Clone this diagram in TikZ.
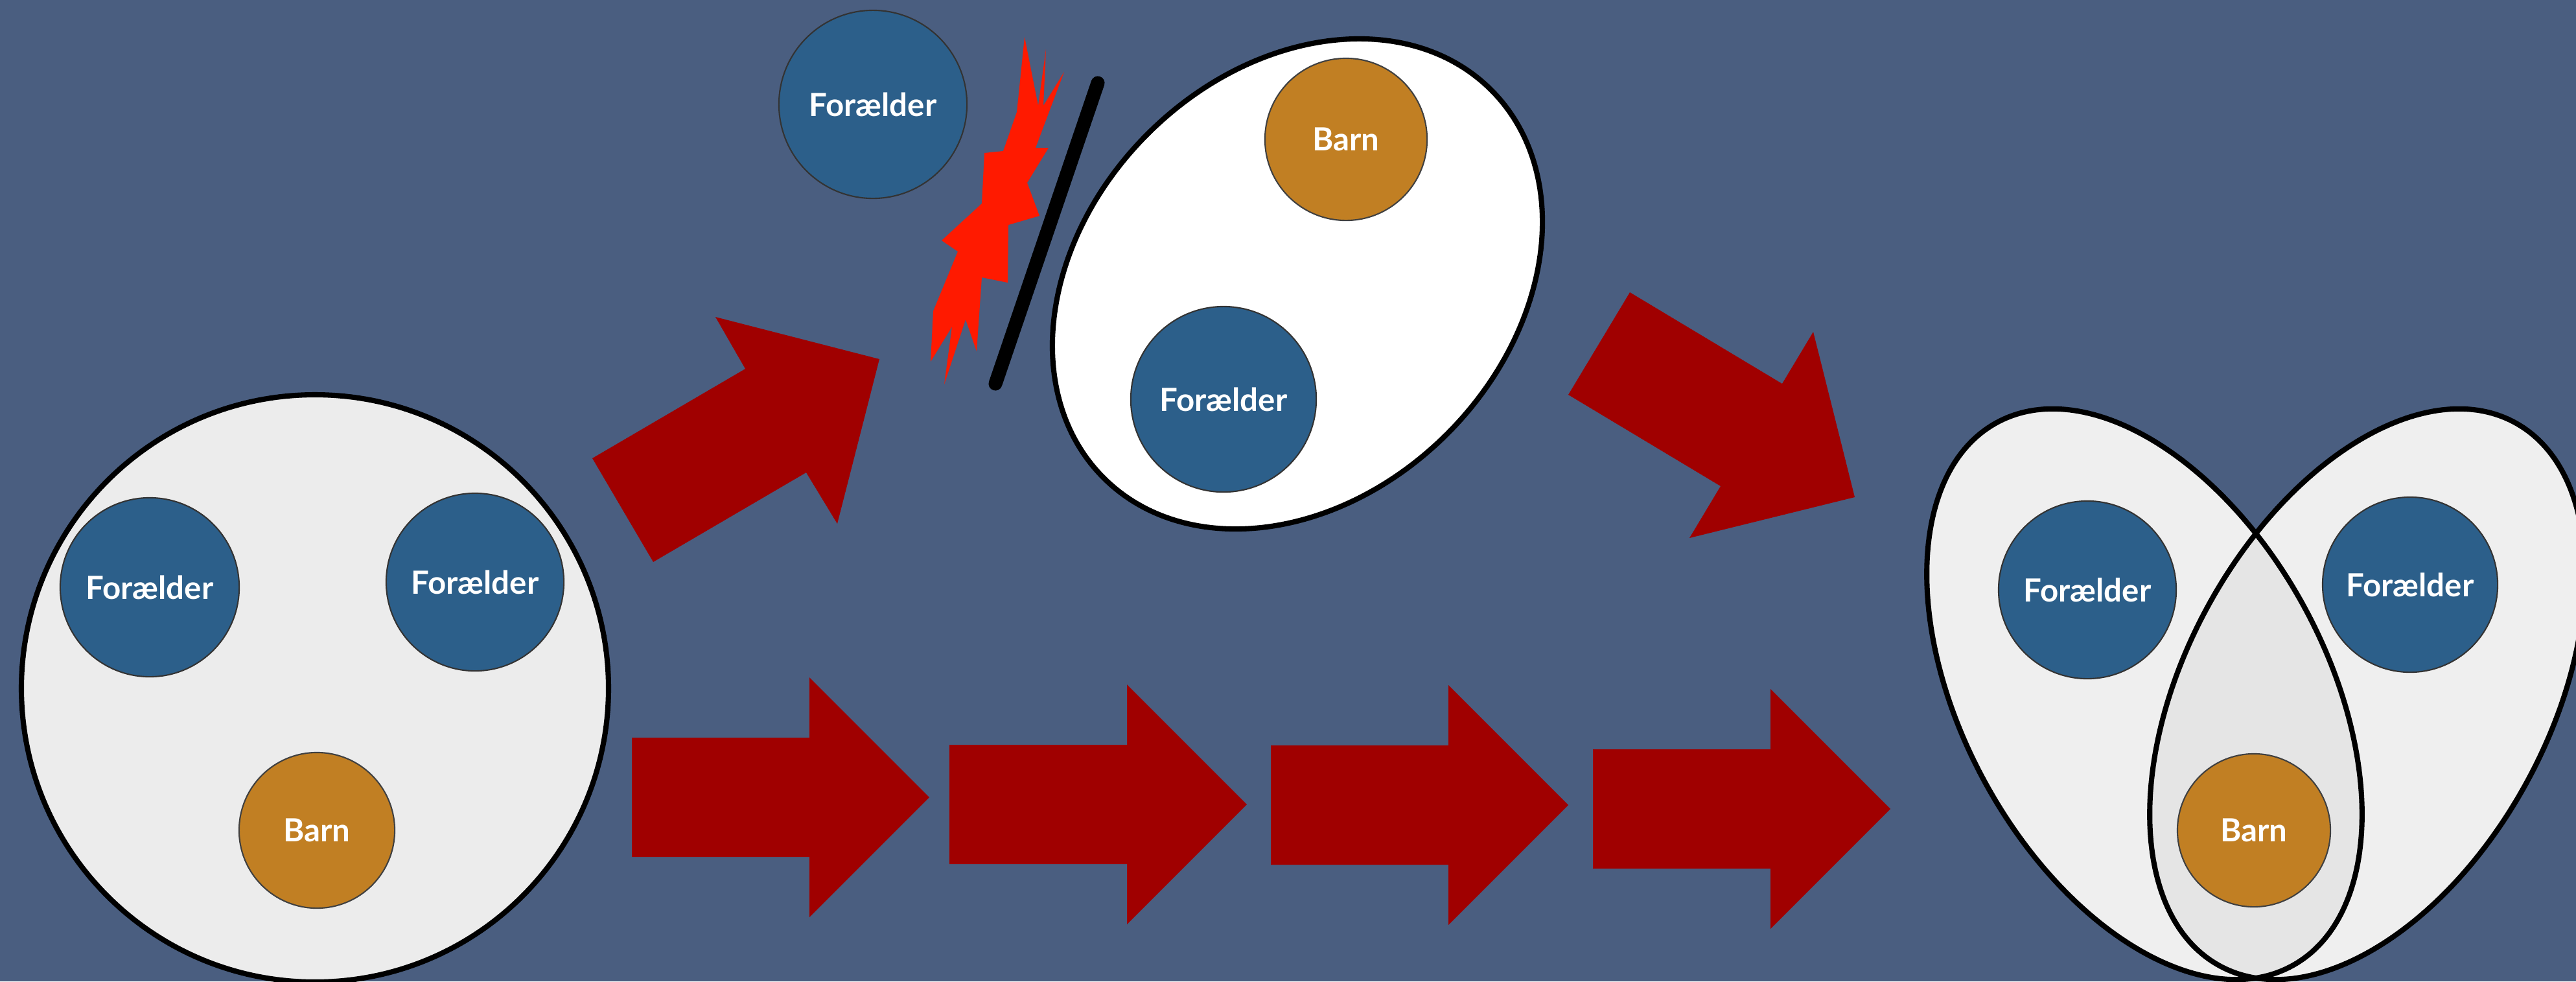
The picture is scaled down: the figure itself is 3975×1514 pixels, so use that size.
\documentclass[tikz,border=0pt]{standalone}
\usepackage{fontspec}
\newfontfamily\lbl{Lato}
\definecolor{bgc}{HTML}{4A5E80}
\definecolor{parc}{HTML}{2C5F8A}
\definecolor{kidc}{HTML}{C17F23}
\definecolor{arrc}{HTML}{A00000}
\definecolor{bangc}{HTML}{FF1A00}
\definecolor{contc}{HTML}{ECECEC}
\definecolor{venc}{HTML}{EFEFEF}
\definecolor{lensc}{HTML}{E5E5E5}
\begin{document}
\begin{tikzpicture}[x=0.01cm,y=-0.01cm,
  member/.style={circle,inner sep=0pt,line width=0.6pt,text=white,
    font=\lbl\bfseries\fontsize{14}{16}\selectfont},
  parent/.style={member,fill=parc,draw=black!80,minimum size=#1},
  child/.style={member,fill=kidc,draw=black!75,minimum size=#1},
  outline/.style={draw=black,line width=2.3pt},
  fatarrow/.pic={\fill[arrc] (0,-92) -- (274,-92) -- (274,-185) -- (459,0)
     -- (274,185) -- (274,92) -- (0,92) -- cycle;}]
\useasboundingbox (0,0) rectangle (3975,1514);
\fill[bgc] (0,0) rectangle (3975,1514);
\clip (0,0) rectangle (3975,1514);

% ---------- left family circle ----------
\draw[outline,fill=contc] (486,1062) circle [radius=453];
\node[parent=2.76cm] (lp1) at (231,906) {Forælder};
\node[parent=2.74cm] (lp2) at (733,898) {Forælder};
\node[child=2.40cm] (lc) at (489,1281) {Barn};

% ---------- arrows ----------
\fill[arrc] (914,707) -- (1008,867) -- (1244,729) -- (1292,808) -- (1357,554)
  -- (1104,489) -- (1150,569) -- cycle;
\fill[arrc] (2515,451) -- (2750,592) -- (2798,512) -- (2862,767) -- (2607,830)
  -- (2655,750) -- (2420,609) -- cycle;
\pic at (975,1230) {fatarrow};
\pic at (1465,1241) {fatarrow};
\pic at (1961,1242) {fatarrow};
\pic at (2458,1248) {fatarrow};

% ---------- top: separated parent ----------
\node[parent=2.90cm] (tp) at (1347,161) {Forælder};
\fill[bangc] (1581,57) -- (1602,163) -- (1614,76) -- (1610,163) -- (1642,111)
  -- (1598,228) -- (1618,228) -- (1585,282) -- (1604,333) -- (1556,347)
  -- (1555,436) -- (1515,428) -- (1507,542) -- (1490,493) -- (1457,593)
  -- (1469,504) -- (1436,558) -- (1440,480) -- (1478,388) -- (1453,371)
  -- (1515,314) -- (1519,236) -- (1548,233) -- (1569,173) -- cycle;
\coordinate (bartop) at (1694,128);
\coordinate (barbot) at (1536,592);
\draw[line width=6pt,line cap=round] (bartop) -- (barbot);
\draw[outline,fill=white,rotate around={-45:(2002,438)}]
  (2002,438) ellipse [x radius=327, y radius=423];
\node[child=2.50cm] (tc) at (2077,215) {Barn};
\node[parent=2.86cm] (tp2) at (1888,616) {Forælder};

% ---------- right: two overlapping households ----------
\fill[venc,rotate around={28.5:(3309,1071)}] (3309,1071) ellipse [x radius=281, y radius=477];
\fill[venc,rotate around={-28.5:(3653,1071)}] (3653,1071) ellipse [x radius=281, y radius=477];
\begin{scope}
  \clip[rotate around={28.5:(3309,1071)}] (3309,1071) ellipse [x radius=281, y radius=477];
  \fill[lensc,rotate around={-28.5:(3653,1071)}] (3653,1071) ellipse [x radius=281, y radius=477];
\end{scope}
\draw[outline,rotate around={28.5:(3309,1071)}] (3309,1071) ellipse [x radius=281, y radius=477];
\draw[outline,rotate around={-28.5:(3653,1071)}] (3653,1071) ellipse [x radius=281, y radius=477];
\node[parent=2.74cm] (rp1) at (3221,910) {Forælder};
\node[parent=2.70cm] (rp2) at (3719,902) {Forælder};
\node[child=2.36cm] (rc) at (3478,1281) {Barn};
\end{tikzpicture}
\end{document}
